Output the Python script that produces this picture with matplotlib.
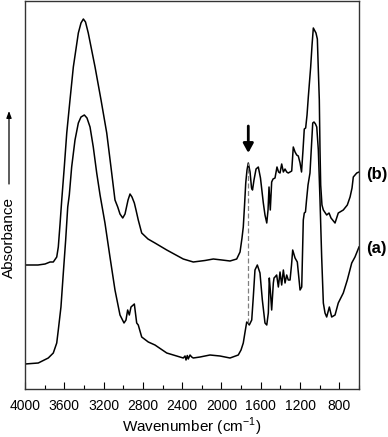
import matplotlib
matplotlib.use("Agg")
import matplotlib.pyplot as plt
from matplotlib.ticker import MultipleLocator

plt.rcParams['font.family'] = ['Liberation Sans', 'DejaVu Sans']

# espectro (b), numero de onda (cm-1) y absorbancia (u.a.)
wn_b = [4000, 3868, 3796, 3745, 3712, 3677, 3661, 3644, 3626, 3600, 3575, 3542,
        3508, 3457, 3430, 3406, 3384, 3356, 3287, 3226, 3168, 3125, 3084, 3056,
        3033, 3005, 2982, 2951, 2931, 2911, 2887, 2870, 2847, 2812, 2748, 2677,
        2557, 2389, 2287, 2168, 2083, 1995, 1913, 1845, 1811, 1791, 1778, 1765,
        1753, 1740, 1727, 1709, 1694, 1684, 1669, 1648, 1625, 1603, 1574, 1557,
        1539, 1526, 1516, 1503, 1489, 1475, 1455, 1435, 1419, 1404, 1387, 1370,
        1353, 1336, 1320, 1302, 1285, 1269, 1251, 1234, 1218, 1200, 1185, 1170,
        1157, 1143, 1129, 1116, 1092, 1078, 1065, 1038, 1024, 1014, 1004, 997,
        990, 977, 963, 929, 905, 885, 844, 811, 760, 719, 691, 671, 658, 623, 600]
abs_b = [1.24, 1.24, 1.25, 1.27, 1.27, 1.32, 1.42, 1.64, 1.89, 2.22, 2.56, 2.89,
         3.22, 3.56, 3.66, 3.70, 3.67, 3.56, 3.22, 2.89, 2.56, 2.22, 1.89, 1.82,
         1.75, 1.71, 1.75, 1.89, 1.95, 1.92, 1.86, 1.79, 1.69, 1.56, 1.50, 1.46,
         1.39, 1.30, 1.27, 1.285, 1.30, 1.29, 1.28, 1.30, 1.37, 1.51, 1.62, 1.84,
         2.06, 2.19, 2.26, 2.17, 2.01, 1.99, 2.09, 2.20, 2.22, 2.11, 1.86, 1.74,
         1.66, 1.79, 2.02, 1.79, 2.07, 2.10, 2.11, 2.22, 2.17, 2.16, 2.25, 2.17,
         2.20, 2.17, 2.16, 2.17, 2.18, 2.42, 2.37, 2.34, 2.33, 2.26, 2.17, 2.39,
         2.60, 2.61, 2.74, 2.92, 3.22, 3.44, 3.61, 3.56, 3.50, 3.19, 2.89, 2.39,
         2.04, 1.84, 1.79, 1.74, 1.76, 1.71, 1.66, 1.76, 1.79, 1.84, 1.92, 2.01,
         2.12, 2.16, 2.17]

# espectro (a)
wn_a = [4000, 3865, 3763, 3712, 3677, 3661, 3634, 3610, 3586, 3565, 3549, 3525,
        3491, 3457, 3430, 3396, 3369, 3338, 3305, 3270, 3236, 3186, 3135, 3084,
        3033, 2992, 2972, 2955, 2938, 2921, 2887, 2863, 2847, 2812, 2745, 2677,
        2557, 2389, 2371, 2361, 2348, 2338, 2320, 2303, 2287, 2218, 2117, 2015,
        1913, 1829, 1801, 1778, 1760, 1743, 1730, 1717, 1692, 1676, 1659, 1635,
        1608, 1584, 1557, 1539, 1523, 1513, 1503, 1489, 1472, 1465, 1455, 1438,
        1421, 1404, 1387, 1370, 1353, 1336, 1320, 1302, 1287, 1275, 1251, 1228,
        1200, 1183, 1167, 1157, 1145, 1134, 1119, 1099, 1071, 1058, 1043, 1030,
        1014, 997, 980, 963, 946, 929, 902, 878, 844, 811, 760, 719, 674, 641, 600]
abs_a = [0.25, 0.26, 0.31, 0.36, 0.46, 0.59, 0.82, 1.16, 1.49, 1.82, 1.94, 2.22,
         2.49, 2.66, 2.72, 2.74, 2.71, 2.62, 2.42, 2.16, 1.94, 1.66, 1.32, 0.99,
         0.74, 0.66, 0.69, 0.79, 0.74, 0.82, 0.85, 0.66, 0.64, 0.52, 0.47, 0.44,
         0.36, 0.31, 0.33, 0.29, 0.335, 0.30, 0.34, 0.32, 0.31, 0.32, 0.34, 0.33,
         0.31, 0.34, 0.39, 0.46, 0.57, 0.67, 0.66, 0.64, 0.69, 0.92, 1.19, 1.24,
         1.16, 0.89, 0.66, 0.64, 0.76, 1.11, 0.99, 0.79, 1.06, 1.11, 1.12, 1.14,
         1.02, 1.17, 1.04, 1.19, 1.06, 1.14, 1.09, 1.09, 1.24, 1.39, 1.31, 1.27,
         0.99, 1.02, 1.69, 1.76, 1.77, 1.89, 2.04, 2.16, 2.66, 2.67, 2.65, 2.62,
         2.39, 1.89, 1.32, 0.86, 0.76, 0.72, 0.82, 0.72, 0.74, 0.86, 0.96, 1.09,
         1.26, 1.32, 1.42]

pico_co = 1727        # banda C=O marcada con la flecha
y_pico_b = 2.26
y_pico_a = 0.66

fig = plt.figure(figsize=(3.88, 4.37), dpi=100)
ax = fig.add_axes([25/388, 1 - 389/437, 334/388, 388/437])

ax.plot(wn_b, abs_b, color="black", lw=1.1)
ax.plot(wn_a, abs_a, color="black", lw=1.1)

# linea discontinua y flecha en la banda C=O
ax.plot([pico_co, pico_co], [y_pico_a, y_pico_b], color="gray", lw=0.9,
        linestyle=(0, (4, 2)))
ax.annotate('', xy=(pico_co, 2.36), xytext=(pico_co, 2.63),
            arrowprops=dict(arrowstyle='-|>,head_width=0.3,head_length=0.55',
                            lw=2, color='black', shrinkA=0, shrinkB=0))

ax.text(1.02, 2.14, "(b)", transform=ax.get_yaxis_transform(),
        fontsize=12, fontweight='bold', ha='left', va='center')
ax.text(1.02, 1.41, "(a)", transform=ax.get_yaxis_transform(),
        fontsize=12, fontweight='bold', ha='left', va='center')

ax.set_xlim(4000, 600)
ax.set_ylim(0, 3.88)
ax.xaxis.set_minor_locator(MultipleLocator(200))
ax.set_xticks(range(4000, 799, -400))
ax.set_yticks([])
ax.tick_params(axis='x', which='major', direction='in', length=5, width=0.8,
               labelsize=10, pad=7)
ax.tick_params(axis='x', which='minor', direction='in', length=3, width=0.8)
for s in ax.spines.values():
    s.set_linewidth(1.0)
    s.set_color("#333333")

ax.set_xlabel("Wavenumber (cm$^{\\mathregular{-1}}$)", fontsize=11, labelpad=2)

# etiqueta del eje y con flecha
fig.text(9/388, 1 - 238/437, "Absorbance", rotation=90, fontsize=11,
         ha='center', va='center')
ax.annotate('', xy=(9/388, 1 - 111/437), xytext=(9/388, 1 - 184/437),
            xycoords='figure fraction', textcoords='figure fraction',
            arrowprops=dict(arrowstyle='-|>,head_width=0.15,head_length=0.4',
                            lw=0.9, color='black', shrinkA=0, shrinkB=0))

fig.savefig("out.png", dpi=100)
